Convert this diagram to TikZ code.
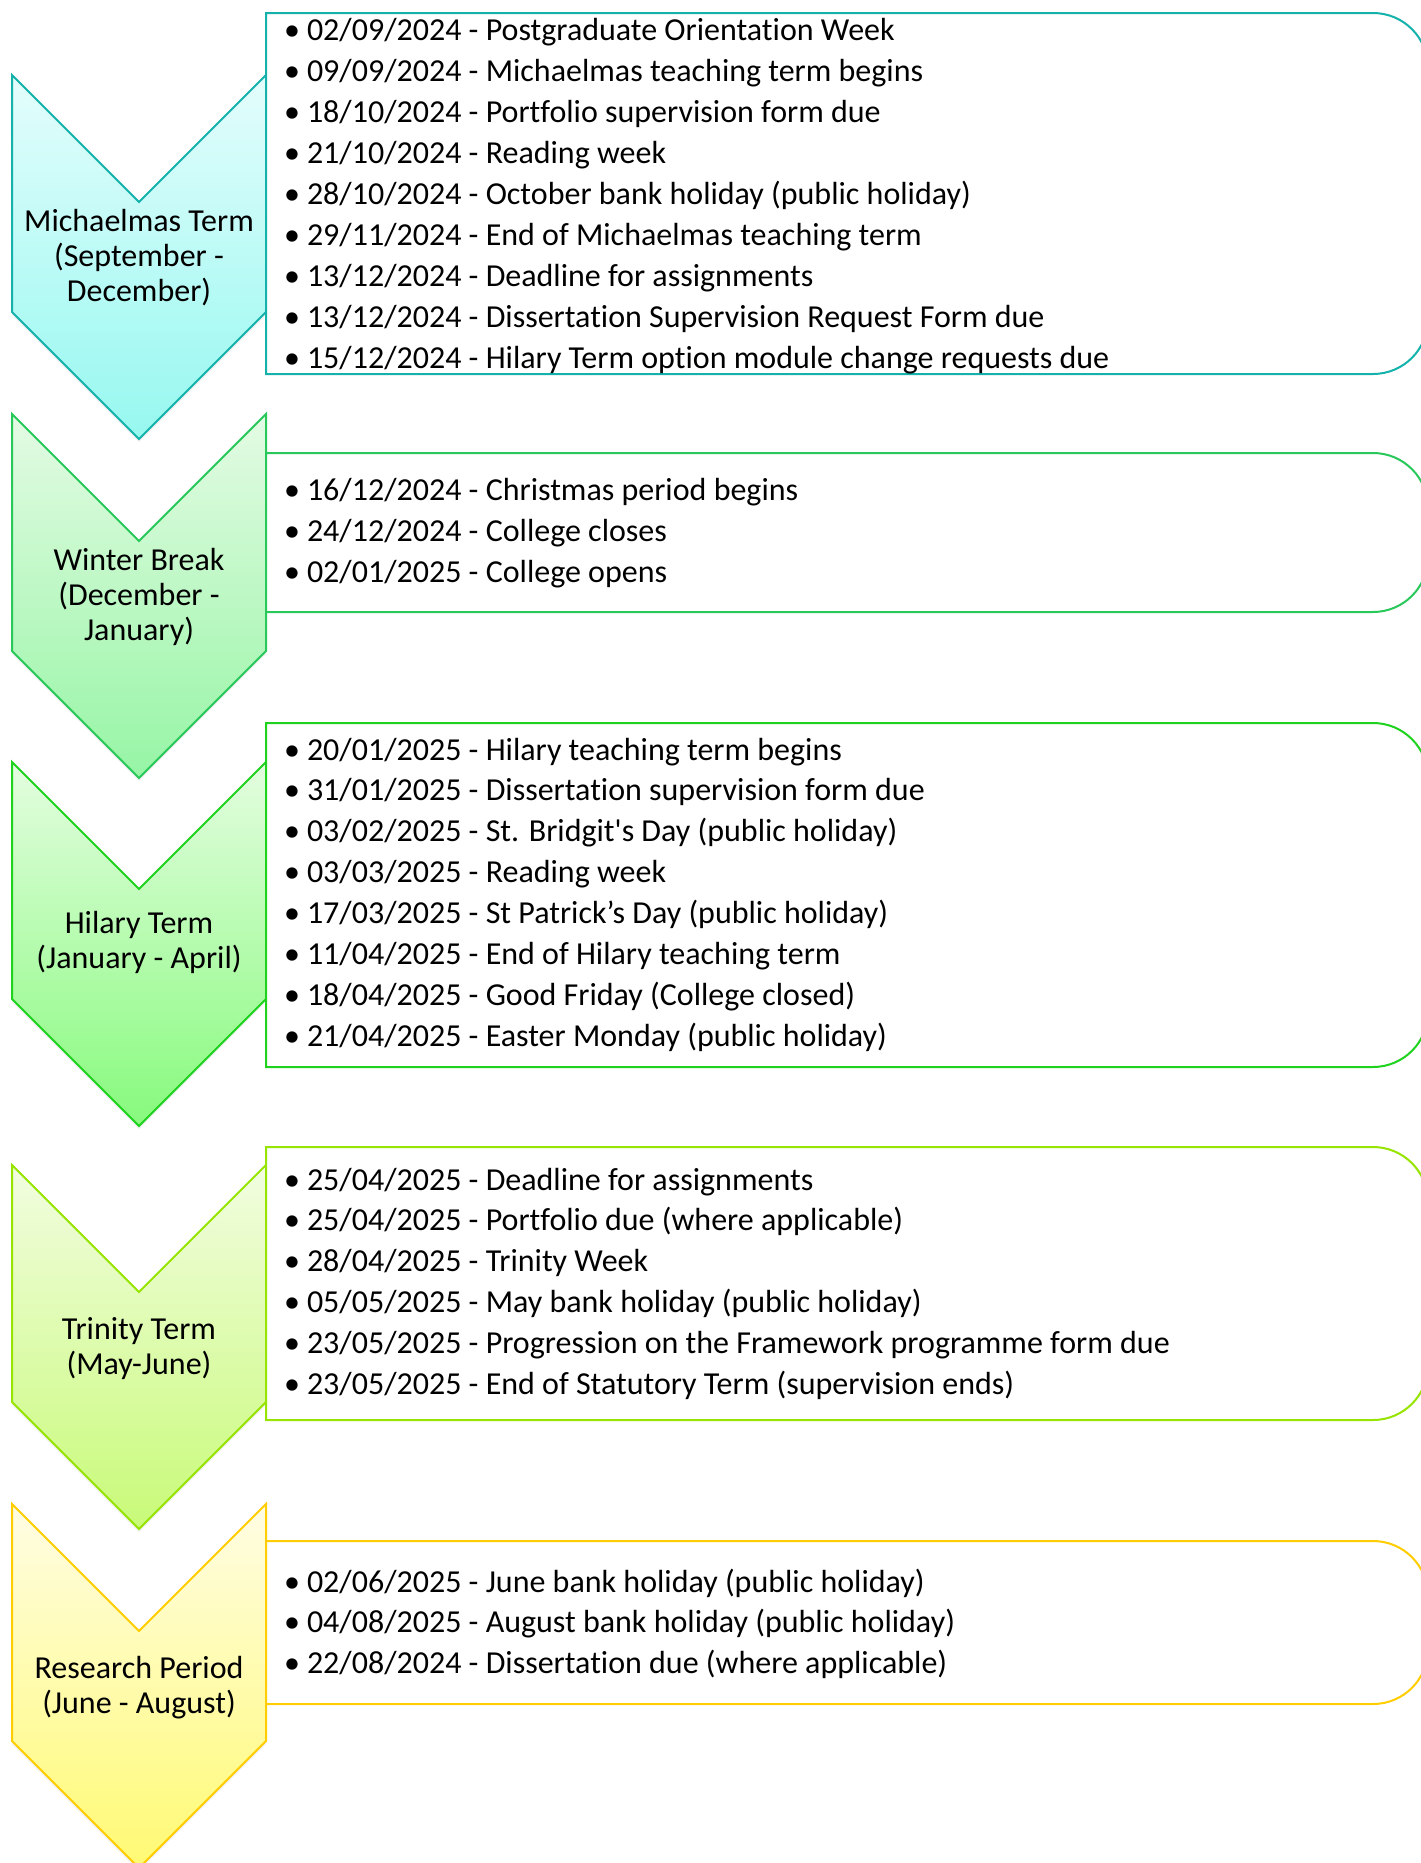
\documentclass[tikz,border=0pt]{standalone}
\usepackage{fontspec}
\setmainfont{Carlito}[Ligatures={NoCommon}]
\usetikzlibrary{shadows}

% border and gradient colours of the five periods
\definecolor{lineA}{RGB}{20,178,170}
\definecolor{topA}{RGB}{228,253,252}
\definecolor{botA}{RGB}{150,248,240}
\definecolor{lineB}{RGB}{40,200,90}
\definecolor{topB}{RGB}{228,251,228}
\definecolor{botB}{RGB}{150,245,165}
\definecolor{lineC}{RGB}{30,210,30}
\definecolor{topC}{RGB}{228,253,224}
\definecolor{botC}{RGB}{135,250,125}
\definecolor{lineD}{RGB}{150,228,0}
\definecolor{topD}{RGB}{242,253,224}
\definecolor{botD}{RGB}{200,250,120}
\definecolor{lineE}{RGB}{255,205,0}
\definecolor{topE}{RGB}{255,253,228}
\definecolor{botE}{RGB}{255,250,115}

% chevron pointing down; #1 = y of its upper corners
\newcommand\chevronpath[1]{(12,#1) -- (139,{#1+127}) -- (266,#1) -- (266,{#1+237}) -- (139,{#1+364}) -- (12,{#1+237}) -- cycle}
% list frame, square on the left, rounded on the right; #1 top, #2 bottom
\newcommand\framepath[2]{(266,#1) -- (1373,#1) arc[start angle=-90,end angle=0,radius=55] -- (1428,{#2-55}) arc[start angle=0,end angle=90,radius=55] -- (266,#2) -- cycle}

% centred label lines inside a chevron
\newcommand\chevlabel[3]{%
  \foreach \txt [count=\i] in {#3} {
    \node[chevtext] (#1-\i) at (139,{#2+35*(\i-1)}) {\txt};
  }}
% bulleted lines inside a frame
\newcommand\itemlist[4]{%
  \foreach \txt [count=\i] in {#4} {
    \node[bul] (#1-b\i) at (292,{#2+#3*(\i-1)}) {\textbullet};
    \node[itm] (#1-\i) at (307,{#2+#3*(\i-1)}) {\txt};
  }}

\begin{document}
\begin{tikzpicture}[x=1pt,y=-1pt,
  txt/.style={inner sep=0pt,outer sep=0pt,font=\fontsize{32}{35}\selectfont,text=black},
  chevtext/.style={txt,anchor=base},
  bul/.style={txt,anchor=base},
  itm/.style={txt,anchor=base west},
  chev/.style={line width=2pt,line join=miter,
    drop shadow={opacity=0.12,shadow xshift=0pt,shadow yshift=-3pt}},
  frame/.style={line width=2pt,fill=white}]
\useasboundingbox (0,0) rectangle (1421,1863);
\clip (0,0) rectangle (1421,1863);

% chevrons
\draw[chev,draw=lineA,top color=topA,bottom color=botA] \chevronpath{75};
\draw[chev,draw=lineB,top color=topB,bottom color=botB] \chevronpath{414};
\draw[chev,draw=lineC,top color=topC,bottom color=botC] \chevronpath{762};
\draw[chev,draw=lineD,top color=topD,bottom color=botD] \chevronpath{1165};
\draw[chev,draw=lineE,top color=topE,bottom color=botE] \chevronpath{1504};

% frames for the date lists
\draw[frame,draw=lineA] \framepath{13}{374};
\draw[frame,draw=lineB] \framepath{453}{612};
\draw[frame,draw=lineC] \framepath{723}{1067};
\draw[frame,draw=lineD] \framepath{1147}{1420};
\draw[frame,draw=lineE] \framepath{1541}{1704};

% period names
\chevlabel{mich}{231}{{Michaelmas Term},{(September -},{December)}}
\chevlabel{wint}{570}{{Winter Break},{(December -},{January)}}
\chevlabel{hil}{933}{{Hilary Term},{(January - April)}}
\chevlabel{trin}{1339}{{Trinity Term},{(May-June)}}
\chevlabel{res}{1678}{{Research Period},{(June - August)}}

% key dates
\itemlist{michd}{40}{41}{%
  {02/09/2024 - Postgraduate Orientation Week},
  {09/09/2024 - Michaelmas teaching term begins},
  {18/10/2024 - Portfolio supervision form due},
  {21/10/2024 - Reading week},
  {28/10/2024 - October bank holiday (public holiday)},
  {29/11/2024 - End of Michaelmas teaching term},
  {13/12/2024 - Deadline for assignments},
  {13/12/2024 - Dissertation Supervision Request Form due},
  {15/12/2024 - Hilary Term option module change requests due}}
\itemlist{wintd}{500}{41}{%
  {16/12/2024 - Christmas period begins},
  {24/12/2024 - College closes},
  {02/01/2025 - College opens}}
\itemlist{hild}{760}{40.9}{%
  {20/01/2025 - Hilary teaching term begins},
  {31/01/2025 - Dissertation supervision form due},
  {03/02/2025 - St. Bridgit\textquotesingle s Day (public holiday)},
  {03/03/2025 - Reading week},
  {17/03/2025 - St Patrick’s Day (public holiday)},
  {11/04/2025 - End of Hilary teaching term},
  {18/04/2025 - Good Friday (College closed)},
  {21/04/2025 - Easter Monday (public holiday)}}
\itemlist{trind}{1190}{40.9}{%
  {25/04/2025 - Deadline for assignments},
  {25/04/2025 - Portfolio due (where applicable)},
  {28/04/2025 - Trinity Week},
  {05/05/2025 - May bank holiday (public holiday)},
  {23/05/2025 - Progression on the Framework programme form due},
  {23/05/2025 - End of Statutory Term (supervision ends)}}
\itemlist{resd}{1592}{40.5}{%
  {02/06/2025 - June bank holiday (public holiday)},
  {04/08/2025 - August bank holiday (public holiday)},
  {22/08/2024 - Dissertation due (where applicable)}}
\end{tikzpicture}
\end{document}
